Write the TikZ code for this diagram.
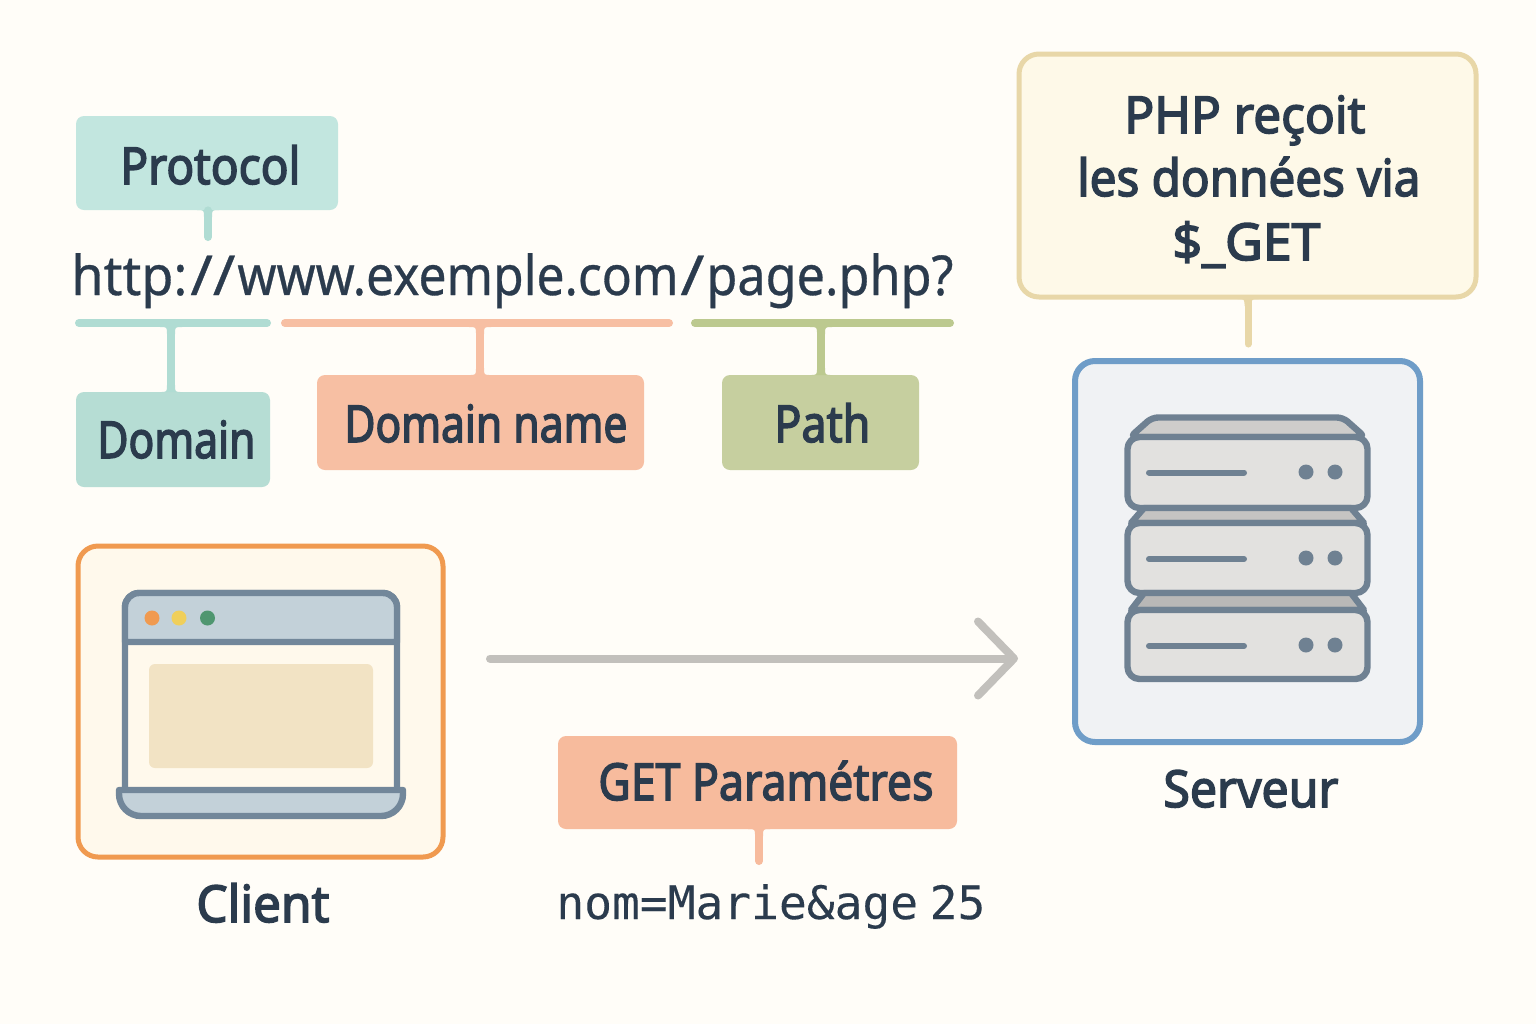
\documentclass[tikz,border=0pt]{standalone}
\usepackage{fontspec}
\usepackage{graphicx}
\usetikzlibrary{arrows.meta}
\setmainfont{Noto Sans}
\newfontfamily\labelfont[FakeBold=3]{Noto Sans}
\newfontfamily\urlfont[FakeBold=0.6]{Noto Sans}
\newfontfamily\codefont[FakeBold=0.15]{DejaVu Sans Mono}
\definecolor{ink}{HTML}{2B3B4D}
\definecolor{pagebg}{HTML}{FFFDF8}
\definecolor{tealA}{HTML}{C2E6DF}
\definecolor{tealB}{HTML}{B6DDD4}
\definecolor{tealC}{HTML}{B0DCD3}
\definecolor{salmon}{HTML}{F7BFA3}
\definecolor{salmonB}{HTML}{F7BB9D}
\definecolor{olive}{HTML}{C6CF9F}
\definecolor{oliveB}{HTML}{BCC98F}
\definecolor{sand}{HTML}{E8D7A8}
\definecolor{creamA}{HTML}{FEF9E8}
\definecolor{creamB}{HTML}{FFF9EC}
\definecolor{orangeB}{HTML}{F09A50}
\definecolor{blueB}{HTML}{6F9DC8}
\definecolor{paleB}{HTML}{F0F2F4}
\definecolor{slate}{HTML}{72879A}
\definecolor{slateB}{HTML}{6F8192}
\definecolor{barfill}{HTML}{C3D1D9}
\definecolor{panel}{HTML}{F2E3C4}
\definecolor{unitfront}{HTML}{E2E1DF}
\definecolor{arrowgrey}{HTML}{C2C0BC}
\definecolor{dotyellow}{HTML}{F0CF5B}
\definecolor{dotgreen}{HTML}{4F9670}
% horizontal fit: text set to width #1 (px), height untouched
\newcommand{\fitw}[2]{\resizebox{\dimexpr #1pt/2\relax}{\height}{#2}}
\newcommand{\flare}[5]{% x, y, half width, direction, colour
  \fill[#5] ({#1-#3-7},#2) .. controls ({#1-#3},#2) .. ({#1-#3},{#2+7*#4})
    -- ({#1+#3},{#2+7*#4}) .. controls ({#1+#3},#2) .. ({#1+#3+7},#2) -- cycle;}
\tikzset{
  x=0.5pt,y=-0.5pt,
  tag/.style={rectangle,rounded corners=4pt,inner sep=0pt},
  lbl/.style={anchor=base west,inner sep=0pt,text=ink,font=\labelfont\fontsize{25.5}{25.5}\selectfont},
  urltext/.style={anchor=base west,inner sep=0pt,text=ink,font=\urlfont\fontsize{27.5}{27.5}\selectfont},
  codetext/.style={anchor=base west,inner sep=0pt,text=ink,font=\codefont\fontsize{23}{23}\selectfont},
  stem/.style={line width=4pt,line cap=round},
  rule/.style={line width=4pt,line cap=round},
  frame/.style={rectangle,rounded corners=10pt,inner sep=0pt},
  device/.style={draw=slate,line width=3.2pt,line join=round},
  unit/.style={draw=slateB,line width=3.2pt,line join=round},
}
\begin{document}
\begin{tikzpicture}
\useasboundingbox (0,0) rectangle (1536,1024);
\fill[pagebg] (0,0) rectangle (1536,1024);

% --- URL labels
\coordinate (protoend) at (208,237);
\coordinate (domainrulemid) at (171,323);
\coordinate (namerulemid) at (480,323);
\coordinate (pathrulemid) at (821,323);
\coordinate (ruleAl) at (79,323);  \coordinate (ruleAr) at (267,323);
\coordinate (ruleBl) at (285,323); \coordinate (ruleBr) at (669,323);
\coordinate (ruleCl) at (695,323); \coordinate (ruleCr) at (950,323);

\node[tag,fill=tealA,minimum width=131pt,minimum height=47pt] (protocol) at (207,163) {};
\node[tag,fill=tealB,minimum width=97pt,minimum height=47.5pt] (domain) at (173,439.5) {};
\node[tag,fill=salmon,minimum width=163.5pt,minimum height=47.5pt] (dname) at (480.5,422.5) {};
\node[tag,fill=olive,minimum width=98.5pt,minimum height=47.5pt] (path) at (820.5,422.5) {};

\draw[stem,draw=tealC] (protocol.south -| protoend) -- (protoend);
\flare{208}{210}{4}{1}{tealC}
\draw[rule,draw=tealC] (ruleAl) -- (ruleAr);
\draw[rule,draw=salmon] (ruleBl) -- (ruleBr);
\draw[rule,draw=oliveB] (ruleCl) -- (ruleCr);
\draw[line width=4pt,draw=tealC] (domainrulemid) -- (domainrulemid |- domain.north);
\draw[line width=4pt,draw=salmon] (namerulemid) -- (namerulemid |- dname.north);
\draw[line width=4pt,draw=oliveB] (pathrulemid) -- (pathrulemid |- path.north);
\flare{171}{327}{4}{1}{tealC}
\flare{171}{392}{4}{-1}{tealC}
\flare{480}{327}{4}{1}{salmon}
\flare{480}{375}{4}{-1}{salmon}
\flare{821}{327}{4}{1}{oliveB}
\flare{821}{375}{4}{-1}{oliveB}

\node[lbl] (tproto) at (120,184) {\fitw{180}{Protocol}};
\node[lbl] (tdomain) at (97,458) {\fitw{158}{Domain}};
\node[lbl] (tdname) at (344,442) {\fitw{283}{Domain name}};
\node[lbl] (tpath) at (774,442) {\fitw{96}{Path}};
\node[urltext] (url) at (71,295) {\fitw{116}{http:}\hspace{1.5pt}\fitw{45}{//}\hspace{1pt}\fitw{441}{www.exemple.com}\hspace{1pt}\fitw{24}{/}\hspace{1pt}\fitw{247}{page.php?}};

% --- Callout
\node[frame,draw=sand,fill=creamA,line width=2.5pt,minimum width=228.5pt,minimum height=121.5pt] (callout) at (1247.5,175.5) {};
\coordinate (calloutend) at (1248,344);
\draw[stem,draw=sand,line width=3.5pt] (callout.south -| calloutend) -- (calloutend);
\flare{1248}{299}{3.5}{1}{sand}
\node[lbl] (tc1) at (1124,133) {\fitw{241}{PHP reçoit}};
\node[lbl] (tc2) at (1077,196) {\fitw{343}{les données via}};
\node[lbl] (tc3) at (1172,260) {\fitw{148}{\$\_GET}};

% --- Client
\node[frame,draw=orangeB,fill=creamB,line width=2.5pt,minimum width=182.5pt,minimum height=155.5pt] (client) at (260.5,701.5) {};
\filldraw[device,fill=creamB,rounded corners=7pt] (125,790) -- (125,593) -- (397,593) -- (397,790);
\filldraw[device,fill=barfill] (125,642) [rounded corners=7pt] -- (125,593) -- (397,593) [sharp corners] -- (397,642) -- cycle;
\fill[panel,rounded corners=3pt] (149,664) rectangle (373,768);
\fill[orangeB] (152,618) circle[radius=7.5];
\fill[dotyellow] (179,618) circle[radius=7.5];
\fill[dotgreen] (207.5,618) circle[radius=7.5];
\filldraw[device,fill=barfill] (119,790) -- (403,790) [rounded corners=11pt] -- (403,816) -- (119,816) [sharp corners] -- cycle;
\node[lbl] (tclient) at (196,922) {\fitw{133}{Client}};

% --- Server
\node[frame,draw=blueB,fill=paleB,line width=3pt,minimum width=172.5pt,minimum height=190.5pt] (server) at (1247.5,551.5) {};
\filldraw[unit,fill=black!9!unitfront,rounded corners=3pt] (1130,437) -- (1152,417.5) -- (1343,417.5) -- (1365,437) -- cycle;
\filldraw[unit,fill=unitfront,rounded corners=6pt] (1127.5,437) rectangle (1367.5,508);
\filldraw[unit,fill=black!13!unitfront] (1131,523) -- (1144,508) -- (1351,508) -- (1364,523) -- cycle;
\filldraw[unit,fill=unitfront,rounded corners=6pt] (1127.5,523) rectangle (1367.5,593);
\filldraw[unit,fill=black!18!unitfront] (1131,610) -- (1144,593) -- (1351,593) -- (1364,610) -- cycle;
\filldraw[unit,fill=unitfront,rounded corners=6pt] (1127.5,610) rectangle (1367.5,679);
\foreach \ly/\dy in {472.5/472,559/558,646/645}{
  \draw[slateB,line width=3pt,line cap=round] (1149,\ly) -- (1244,\ly);
  \fill[slateB] (1306,\dy) circle[radius=7.5];
  \fill[slateB] (1335,\dy) circle[radius=7.5];
}
\node[lbl] (tserver) at (1163,807) {\fitw{175}{Serveur}};

% --- Request arrow
\coordinate (arrowstart) at (490,658.5);
\coordinate (arrowend) at (1018,658.5);
\draw[arrowgrey,line width=4pt,line cap=round,-{Straight Barb[length=18pt,width=37pt,line width=4pt,round]}] (arrowstart) -- (arrowend);

% --- GET
\node[tag,fill=salmonB,minimum width=199.5pt,minimum height=46.5pt] (get) at (757.5,782.5) {};
\coordinate (getend) at (759,861);
\draw[stem,draw=salmonB] (get.south -| getend) -- (getend);
\flare{759}{829}{4}{1}{salmonB}
\node[lbl] (tget) at (598,800) {\fitw{335}{GET Paramétres}};
\node[codetext] (code) at (556,919) {\fitw{429}{nom=Marie\&age\hspace{-0.35em} 25}};
\end{tikzpicture}
\end{document}
